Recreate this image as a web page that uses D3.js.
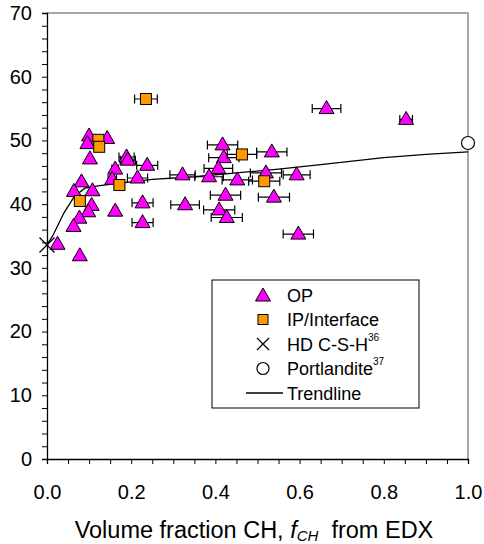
<!DOCTYPE html>
<html>
<head>
<meta charset="utf-8">
<script src="https://cdn.jsdelivr.net/npm/d3@7"></script>
<style>
  body { margin: 0; background: #fff; }
  svg { font-family: Arial, "Liberation Sans", sans-serif; display: block; }
</style>
</head>
<body>
<svg id="chart"></svg>
<script>
// OP points (triangles)
const opX = [0.100, 0.096, 0.143, 0.102, 0.189, 0.192, 0.238, 0.162, 0.155, 0.215,
  0.082, 0.064, 0.108, 0.106, 0.098, 0.077, 0.063, 0.162, 0.227, 0.227,
  0.025, 0.078, 0.417, 0.534, 0.420, 0.407, 0.322, 0.385, 0.452, 0.520,
  0.593, 0.424, 0.539, 0.328, 0.409, 0.427, 0.597, 0.664, 0.853]
const opY = [50.7, 49.5, 50.3, 47.1, 47.4, 46.9, 46.1, 45.5, 43.9, 44.1,
  43.5, 42.0, 42.1, 39.8, 38.8, 37.8, 36.5, 38.9, 40.2, 37.1,
  33.7, 31.9, 49.3, 48.2, 47.3, 45.6, 44.6, 44.3, 43.8, 44.9,
  44.6, 41.4, 41.1, 39.9, 39.1, 37.9, 35.3, 55.0, 53.3]
const opErr = [0, 0, 0, 0, 0.018, 0.018, 0.025, 0.008, 0.010, 0.024,
  0, 0, 0, 0, 0, 0, 0, 0.006, 0.025, 0.025,
  0, 0, 0.036, 0.036, 0.036, 0.034, 0.030, 0.034, 0.036, 0.037,
  0.032, 0.036, 0.037, 0.034, 0.037, 0.037, 0.036, 0.034, 0.015]

// IP/Interface points (squares)
const ipX = [0.235, 0.122, 0.124, 0.463, 0.172, 0.516, 0.078]
const ipY = [56.5, 50.1, 49.0, 47.8, 43.0, 43.6, 40.5]
const ipErr = [0.027, 0, 0, 0.035, 0.012, 0.037, 0]

// reference points
const hdX = [0.0], hdY = [33.6]
const chX = [1.0], chY = [49.6]

// trendline
const trendX = [0, 0.015, 0.04, 0.065, 0.09, 0.125, 0.175, 0.25, 0.35, 0.45, 0.55, 0.65, 0.8, 0.9, 1.0]
const trendY = [33.6, 35.2, 38.6, 41.2, 42.5, 42.9, 43.3, 43.9, 44.3, 44.9, 45.5, 46.2, 47.3, 47.8, 48.2]

const yTicks = [0, 10, 20, 30, 40, 50, 60, 70]
const xTicks = [0, 0.2, 0.4, 0.6, 0.8, 1.0]

const legendItems = [
  { type: "op", label: "OP", sup: "" },
  { type: "ip", label: "IP/Interface", sup: "" },
  { type: "hd", label: "HD C-S-H", sup: "36" },
  { type: "ch", label: "Portlandite", sup: "37" },
  { type: "line", label: "Trendline", sup: "" },
]

const dimensions = {
  width: 484,
  height: 544,
  margin: { top: 13, bottom: 85, right: 16, left: 47 },
}
dimensions.boundedWidth = dimensions.width - dimensions.margin.left - dimensions.margin.right
dimensions.boundedHeight = dimensions.height - dimensions.margin.top - dimensions.margin.bottom

const wrapper = d3.select("#chart")
  .attr("width", dimensions.width)
  .attr("height", dimensions.height)

const bounds = wrapper.append("g")
  .attr("transform", `translate(${dimensions.margin.left},${dimensions.margin.top})`)

const xScale = d3.scaleLinear().domain([0, 1]).range([0, dimensions.boundedWidth])
const yScale = d3.scaleLinear().domain([0, 70]).range([dimensions.boundedHeight, 0])

// frame: grey top/right
bounds.append("path")
  .attr("d", `M0,0H${dimensions.boundedWidth}V${dimensions.boundedHeight}`)
  .attr("fill", "none")
  .attr("stroke", "#8c8c8c")
  .attr("stroke-width", 1.5)

// axes
const yAxis = d3.axisLeft(yScale)
  .tickValues(d3.range(0, 70.1, 2))
  .tickSize(5)
  .tickFormat((d) => (yTicks.includes(d) ? d : ""))
const yAxisG = bounds.append("g").call(yAxis)
yAxisG.selectAll("text").attr("font-size", 20).attr("fill", "#000").attr("x", -15)
yAxisG.select(".domain").attr("stroke-width", 1.3)

const xAxis = d3.axisBottom(xScale)
  .tickValues(d3.range(0, 1.0001, 0.05))
  .tickSize(5)
  .tickFormat((d) => (xTicks.some((t) => Math.abs(t - d) < 1e-6) ? d3.format(".1f")(d) : ""))
const xAxisG = bounds.append("g")
  .attr("transform", `translate(0,${dimensions.boundedHeight})`)
  .call(xAxis)
xAxisG.selectAll("text").attr("font-size", 20).attr("fill", "#000").attr("y", 26)
xAxisG.select(".domain").attr("stroke-width", 1.3)

// axis title
const title = wrapper.append("text")
  .attr("x", 254)
  .attr("y", 538)
  .attr("text-anchor", "middle")
  .attr("font-size", 23.5)
title.append("tspan").text("Volume fraction CH, ")
title.append("tspan").attr("font-style", "italic").text("f")
title.append("tspan").attr("font-style", "italic").attr("font-size", 15).attr("dy", 3).text("CH")
title.append("tspan").attr("dy", -3).text("\u00a0 from EDX")

// trendline
const lineGen = d3.line()
  .x((d, i) => xScale(trendX[i]))
  .y((d, i) => yScale(trendY[i]))
bounds.append("path")
  .attr("d", lineGen(trendX))
  .attr("fill", "none")
  .attr("stroke", "#000")
  .attr("stroke-width", 1.3)

const triPath = (cx, cy) => `M${cx},${cy - 8}L${cx + 7.5},${cy + 5}L${cx - 7.5},${cy + 5}Z`

function drawErrorBars(xs, ys, errs) {
  const g = bounds.append("g").attr("stroke", "#000").attr("stroke-width", 1.2)
  xs.forEach((x, i) => {
    if (!errs[i]) return
    const x0 = xScale(x - errs[i]), x1 = xScale(x + errs[i]), y = yScale(ys[i])
    g.append("path").attr("d", `M${x0},${y}H${x1}M${x0},${y - 4.5}V${y + 4.5}M${x1},${y - 4.5}V${y + 4.5}`)
  })
}

// OP series
drawErrorBars(opX, opY, opErr)
bounds.append("g").selectAll("path")
  .data(opX)
  .join("path")
  .attr("d", (d, i) => triPath(xScale(d), yScale(opY[i])))
  .attr("fill", "#ff00ff")
  .attr("stroke", "#000")
  .attr("stroke-width", 1)

// IP series
drawErrorBars(ipX, ipY, ipErr)
bounds.append("g").selectAll("rect")
  .data(ipX)
  .join("rect")
  .attr("x", (d) => xScale(d) - 5.5)
  .attr("y", (d, i) => yScale(ipY[i]) - 5.5)
  .attr("width", 11)
  .attr("height", 11)
  .attr("fill", "#ff9900")
  .attr("stroke", "#000")
  .attr("stroke-width", 1)

const crossPath = (cx, cy, s) => `M${cx - s},${cy - s}L${cx + s},${cy + s}M${cx - s},${cy + s}L${cx + s},${cy - s}`

// HD C-S-H
bounds.append("g").selectAll("path")
  .data(hdX)
  .join("path")
  .attr("d", (d, i) => crossPath(xScale(d), yScale(hdY[i]), 7.5))
  .attr("stroke", "#000")
  .attr("stroke-width", 1.3)
  .attr("fill", "none")

// Portlandite
bounds.append("g").selectAll("circle")
  .data(chX)
  .join("circle")
  .attr("cx", (d) => xScale(d))
  .attr("cy", (d, i) => yScale(chY[i]))
  .attr("r", 6.5)
  .attr("fill", "#fff")
  .attr("stroke", "#000")
  .attr("stroke-width", 1.2)

// legend
const legend = wrapper.append("g").attr("transform", "translate(212,280)")
legend.append("rect")
  .attr("width", 207)
  .attr("height", 128)
  .attr("fill", "#fff")
  .attr("stroke", "#000")
  .attr("stroke-width", 1)

const rowY = (i) => 15 + i * 24.5
legendItems.forEach((item, i) => {
  const y = rowY(i)
  const sx = 51
  if (item.type === "op") {
    legend.append("path").attr("d", triPath(sx, y + 1)).attr("fill", "#ff00ff").attr("stroke", "#000")
  } else if (item.type === "ip") {
    legend.append("rect").attr("x", sx - 5).attr("y", y - 5).attr("width", 10).attr("height", 10)
      .attr("fill", "#ff9900").attr("stroke", "#000")
  } else if (item.type === "hd") {
    legend.append("path").attr("d", crossPath(sx, y, 6)).attr("stroke", "#000").attr("stroke-width", 1.2)
  } else if (item.type === "ch") {
    legend.append("circle").attr("cx", sx).attr("cy", y).attr("r", 6).attr("fill", "#fff")
      .attr("stroke", "#000").attr("stroke-width", 1.2)
  } else {
    legend.append("line").attr("x1", 34).attr("x2", 71).attr("y1", y).attr("y2", y)
      .attr("stroke", "#000").attr("stroke-width", 1.3)
  }
  const t = legend.append("text")
    .attr("x", 75)
    .attr("y", y + 6.5)
    .attr("font-size", 18)
    .text(item.label)
  if (item.sup) {
    t.append("tspan").attr("font-size", 10).attr("dy", -10).text(item.sup)
  }
})
</script>
</body>
</html>
